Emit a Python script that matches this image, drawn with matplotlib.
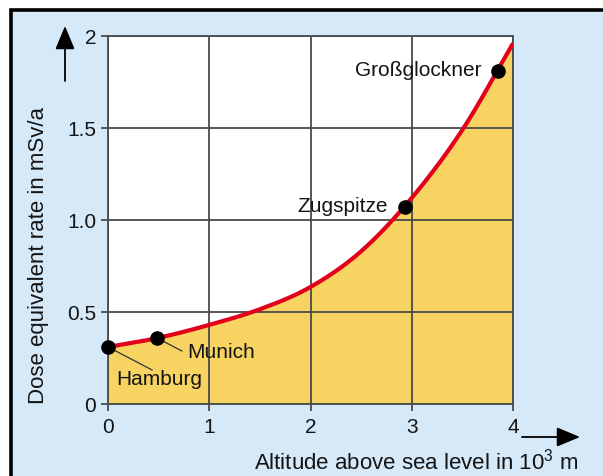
import numpy as np
import matplotlib
matplotlib.use("Agg")
import matplotlib.pyplot as plt
from matplotlib.patches import Rectangle

plt.rcParams['font.family'] = ['Liberation Sans', 'DejaVu Sans']
plt.rcParams['mathtext.default'] = 'regular'

# Dose equivalent rate curve (altitude in 10^3 m, dose in mSv/a)
altitude = [0.0, 0.5, 1.0, 1.5, 2.0, 2.5, 3.0, 3.5, 4.0]
dose = [0.31, 0.36, 0.43, 0.515, 0.636, 0.83, 1.12, 1.49, 1.96]

# Named locations on the curve
places = ["Hamburg", "Munich", "Zugspitze", "Großglockner"]
place_alt = [0.0, 0.48, 2.93, 3.85]
place_dose = [0.31, 0.36, 1.07, 1.81]

x_ticks = [0, 1, 2, 3, 4]
y_ticks = [0, 0.5, 1.0, 1.5, 2]
y_ticklabels = ["0", "0.5", "1.0", "1.5", "2"]

BG = '#d6e9f8'
FILL = '#f7d462'
RED = '#e3001b'
GRID = '#4a4a4a'
TXT = '#141414'


def smooth(xs, ys):
    """Catmull-Rom spline through the given points."""
    xs = np.asarray(xs, float)
    ys = np.asarray(ys, float)
    px = np.concatenate([[2 * xs[0] - xs[1]], xs, [2 * xs[-1] - xs[-2]]])
    py = np.concatenate([[2 * ys[0] - ys[1]], ys, [2 * ys[-1] - ys[-2]]])
    out_x, out_y = [], []
    t = np.linspace(0, 1, 40, endpoint=False)
    for i in range(1, len(px) - 2):
        for arr, res in ((px, out_x), (py, out_y)):
            p0, p1, p2, p3 = arr[i - 1], arr[i], arr[i + 1], arr[i + 2]
            res.extend(0.5 * ((2 * p1) + (-p0 + p2) * t +
                              (2 * p0 - 5 * p1 + 4 * p2 - p3) * t ** 2 +
                              (-p0 + 3 * p1 - 3 * p2 + p3) * t ** 3))
    out_x.append(xs[-1])
    out_y.append(ys[-1])
    return np.array(out_x), np.array(out_y)


W, H = 603, 477
fig = plt.figure(figsize=(W / 100, H / 100), dpi=100, facecolor='white')

# Light blue panel with black frame on top and left
fig.add_artist(Rectangle((10.5 / W, -0.1), 1.2, (H - 10.5) / H + 0.1,
                         transform=fig.transFigure, facecolor=BG,
                         edgecolor='black', linewidth=2.6, zorder=0))

ax = fig.add_axes([108 / W, 72 / H, 405 / W, 368 / H])
ax.set_facecolor('white')
ax.set_xlim(0, 4)
ax.set_ylim(0, 2)

cx, cy = smooth(altitude, dose)
ax.fill_between(cx, 0, cy, color=FILL, linewidth=0, zorder=1)
ax.plot(cx, cy, color=RED, linewidth=3.0, zorder=3, solid_capstyle='butt')
ax.plot(place_alt, place_dose, 'o', color='black', markersize=9.5, zorder=4,
        clip_on=False)

ax.set_xticks(x_ticks)
ax.set_yticks(y_ticks)
ax.set_yticklabels(y_ticklabels)
ax.grid(True, color=GRID, linewidth=1.3, zorder=2)
ax.set_axisbelow(False)
for s in ax.spines.values():
    s.set_color(GRID)
    s.set_linewidth(1.3)
ax.tick_params(direction='out', length=5, width=1.3, color=GRID,
               labelsize=15, labelcolor=TXT)
ax.tick_params(axis='y', pad=3.5)
ax.tick_params(axis='x', pad=4.5)

# Labels for the locations with leader lines
fs = 15
ax.plot([place_alt[0], 0.435], [place_dose[0], 0.185], color='#333333', lw=0.9, zorder=3.5)
ax.text(0.08, 0.141, places[0], ha='left', va='center', fontsize=fs, color=TXT)
ax.plot([place_alt[1], 0.73], [place_dose[1], 0.288], color='#333333', lw=0.9, zorder=3.5)
ax.text(0.78, 0.288, places[1], ha='left', va='center', fontsize=fs, color=TXT)
ax.text(2.765, 1.08, places[2], ha='right', va='center', fontsize=fs, color=TXT)
ax.text(3.69, 1.82, places[3], ha='right', va='center', fontsize=fs, color=TXT)

# Axis titles and direction arrows
fig.text(39 / W, (H - 255) / H, "Dose equivalent rate in mSv/a", rotation=90,
         ha='center', va='center', fontsize=16, color=TXT)
fig.text(578 / W, 7 / H, "Altitude above sea level in 10$^3$ m",
         ha='right', va='baseline', fontsize=16, color=TXT)

arrow = dict(arrowstyle='-|>,head_length=1.2,head_width=0.5', color='black',
             lw=1.3, mutation_scale=12, shrinkA=0, shrinkB=0)
ax.annotate('', xy=(65, H - 27), xytext=(65, H - 82), xycoords='figure pixels',
            textcoords='figure pixels', arrowprops=arrow, annotation_clip=False)
ax.annotate('', xy=(580, H - 438), xytext=(522, H - 438), xycoords='figure pixels',
            textcoords='figure pixels', arrowprops=arrow, annotation_clip=False)

fig.savefig('out.png', dpi=100, facecolor='white')
